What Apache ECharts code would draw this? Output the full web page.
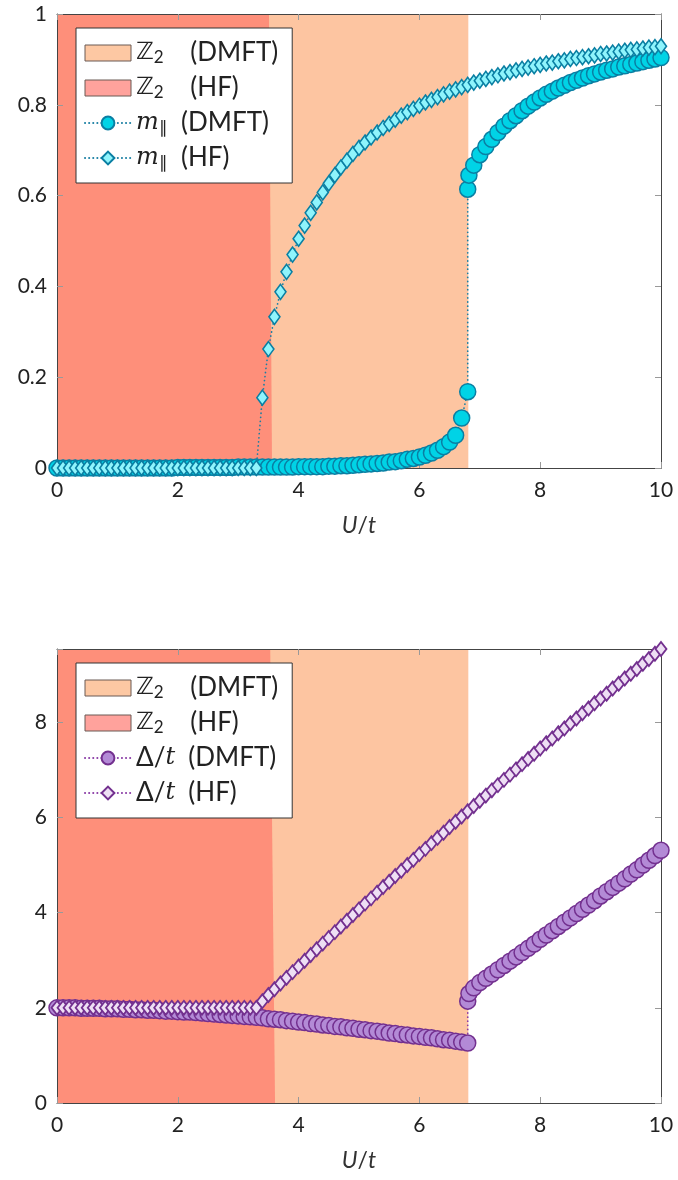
<!DOCTYPE html>
<html>
<head>
<meta charset="utf-8">
<script src="https://cdn.jsdelivr.net/npm/echarts@6/dist/echarts.min.js"></script>
<style>
html,body{margin:0;padding:0;background:#fff;}
#chart{width:678px;height:1180px;}
</style>
</head>
<body>
<div id="chart"></div>
<script>
// ---------- data ----------
const xHF = [0,0.1,0.2,0.3,0.4,0.5,0.6,0.7,0.8,0.9,1,1.1,1.2,1.3,1.4,1.5,1.6,1.7,1.8,1.9,2,2.1,2.2,2.3,2.4,2.5,2.6,2.7,2.8,2.9,3,3.1,3.2,3.3,3.4,3.5,3.6,3.7,3.8,3.9,4,4.1,4.2,4.3,4.4,4.5,4.6,4.7,4.8,4.9,5,5.1,5.2,5.3,5.4,5.5,5.6,5.7,5.8,5.9,6,6.1,6.2,6.3,6.4,6.5,6.6,6.7,6.8,6.9,7,7.1,7.2,7.3,7.4,7.5,7.6,7.7,7.8,7.9,8,8.1,8.2,8.3,8.4,8.5,8.6,8.7,8.8,8.9,9,9.1,9.2,9.3,9.4,9.5,9.6,9.7,9.8,9.9,10];
const mHF = [0,0,0,0,0,0,0,0,0,0,0,0,0,0,0,0,0,0,0,0,0,0,0,0,0,0,0,0,0,0,0,0,0,0,
  0.155,0.262,0.333,0.388,0.432,0.470,0.505,0.534,0.562,0.585,0.607,0.627,0.645,0.662,0.677,0.692,
  0.705,0.717,0.728,0.739,0.749,0.758,0.767,0.776,0.784,0.791,0.798,0.805,0.811,0.817,0.823,0.829,
  0.834,0.839,0.844,0.849,0.853,0.857,0.861,0.865,0.869,0.872,0.876,0.879,0.882,0.885,0.888,0.891,
  0.893,0.896,0.898,0.901,0.903,0.905,0.907,0.909,0.912,0.913,0.915,0.917,0.919,0.921,0.922,0.924,
  0.926,0.927,0.929];
const dHF = [2,2,2,2,2,2,2,2,2,2,2,2,2,2,2,2,2,2,2,2,2,2,2,2,2,2,2,2,2,2,2,2,2,2,
  2.14,2.27,2.39,2.51,2.63,2.75,2.87,2.99,3.11,3.23,3.35,3.47,3.59,3.71,3.83,3.95,
  4.07,4.19,4.30,4.42,4.54,4.65,4.77,4.88,5.00,5.11,5.23,5.34,5.46,5.57,5.68,5.80,
  5.91,6.02,6.13,6.24,6.35,6.46,6.57,6.68,6.79,6.90,7.01,7.12,7.23,7.34,7.45,7.56,
  7.66,7.77,7.87,7.98,8.08,8.19,8.29,8.40,8.50,8.60,8.71,8.81,8.92,9.02,9.12,9.23,
  9.33,9.44,9.54];

const xDMFT = [0,0.1,0.2,0.3,0.4,0.5,0.6,0.7,0.8,0.9,1,1.1,1.2,1.3,1.4,1.5,1.6,1.7,1.8,1.9,2,2.1,2.2,2.3,2.4,2.5,2.6,2.7,2.8,2.9,3,3.1,3.2,3.3,3.4,3.5,3.6,3.7,3.8,3.9,4,4.1,4.2,4.3,4.4,4.5,4.6,4.7,4.8,4.9,5,5.1,5.2,5.3,5.4,5.5,5.6,5.7,5.8,5.9,6,6.1,6.2,6.3,6.4,6.5,6.6,6.7,6.8,
  6.8,6.82,6.9,7,7.1,7.2,7.3,7.4,7.5,7.6,7.7,7.8,7.9,8,8.1,8.2,8.3,8.4,8.5,8.6,8.7,8.8,8.9,9,9.1,9.2,9.3,9.4,9.5,9.6,9.7,9.8,9.9,10];
const mDMFT = [0,0,0,0,0,0,0,0,0,0,0,0,0,0,0,0,0,0,0,0,
  0.001,0.001,0.001,0.001,0.001,0.001,0.001,0.001,0.001,0.001,
  0.002,0.002,0.002,0.002,0.002,0.002,0.002,0.002,0.002,0.002,
  0.003,0.003,0.003,0.003,0.003,
  0.004,0.004,0.005,0.005,0.006,0.007,0.008,0.009,0.010,0.011,0.013,0.014,0.016,0.019,0.021,0.024,
  0.028,0.033,0.039,0.047,0.057,0.072,0.110,0.168,
  0.614,0.645,0.667,0.690,0.708,0.724,0.739,0.753,0.765,0.776,0.787,0.797,0.806,0.815,0.823,0.830,
  0.837,0.843,0.849,0.854,0.859,0.864,0.868,0.872,0.876,0.879,0.883,0.886,0.889,0.892,0.895,0.898,
  0.901,0.904];
const dDMFT = [2.00,2.00,2.00,2.00,1.99,1.99,1.99,1.99,1.98,1.98,
  1.98,1.97,1.97,1.96,1.96,1.95,1.95,1.94,1.93,1.93,
  1.92,1.91,1.91,1.90,1.89,1.88,1.87,1.86,1.85,1.84,
  1.83,1.82,1.81,1.80,1.79,1.77,1.76,1.75,1.73,1.72,
  1.70,1.69,1.67,1.66,1.64,1.63,1.61,1.60,1.58,1.57,
  1.55,1.54,1.52,1.51,1.49,1.47,1.46,1.44,1.43,1.41,
  1.40,1.38,1.37,1.35,1.33,1.32,1.30,1.28,1.26,
  2.14,2.30,2.42,2.53,2.62,2.71,2.80,2.89,2.98,3.07,3.16,3.25,3.34,3.44,3.53,3.62,
  3.71,3.80,3.89,3.98,4.07,4.16,4.25,4.35,4.44,4.53,4.62,4.71,4.81,4.90,5.00,5.10,
  5.20,5.31];

// phase regions (polygon corners in data units)
const regionDMFT_top = [[0,0],[6.81,0],[6.81,1],[0,1]];
const regionHF_top = [[0,0],[3.56,0],[3.51,1],[0,1]];
const regionDMFT_bot = [[0,0],[6.81,0],[6.81,9.54],[0,9.54]];
const regionHF_bot = [[0,0],[3.61,0],[3.53,9.54],[0,9.54]];

const xTicks = [0,2,4,6,8,10];
const yTicksTop = [0,0.2,0.4,0.6,0.8,1];
const yTicksBot = [0,2,4,6,8];

// ---------- helpers ----------
const zip = (xs, ys) => xs.map((x, i) => [x, ys[i]]);
const FONT = 'Lato';
const TXT = '#222';

function regionSeries(name, pts, color, xi, yi) {
  return {
    type: 'custom', name: name, xAxisIndex: xi, yAxisIndex: yi, z: 0,
    itemStyle: {color: color}, silent: true,
    data: [[0, 0]],
    renderItem: function (params, api) {
      return {type: 'polygon', shape: {points: pts.map(p => api.coord(p))},
              style: {fill: color}};
    }
  };
}
function lineSeries(name, data, sym, size, fill, stroke, bw, lineColor, xi, yi, z) {
  return {
    type: 'line', name: name, xAxisIndex: xi, yAxisIndex: yi, z: z,
    data: data, symbol: sym, symbolSize: size, showSymbol: true,
    itemStyle: {color: fill, borderColor: stroke, borderWidth: bw},
    lineStyle: {color: lineColor, width: 1.7, type: [0.1, 4], cap: 'round'},
    emphasis: {disabled: true}, animation: false
  };
}
function xAx(grid, pos) {
  const bottom = pos === 'bottom';
  return {
    type: 'value', gridIndex: grid, position: pos, min: 0, max: 10, interval: 2, z: 1,
    name: bottom ? '{i|U}/{i|t}' : '', nameLocation: 'middle', nameGap: 46,
    nameTextStyle: {fontFamily: FONT, fontSize: 23, color: '#333',
      rich: {i: {fontStyle: 'italic', fontFamily: FONT, fontSize: 23, color: '#333'}}},
    axisLine: {show: true, onZero: false, lineStyle: {color: '#444', width: 1}},
    axisTick: {show: true, inside: true, length: 6, lineStyle: {color: '#999'}},
    axisLabel: {show: bottom, fontFamily: FONT, fontSize: 21, color: TXT, margin: 12,
      formatter: v => xTicks.includes(v) ? String(v) : ''},
    splitLine: {show: false}
  };
}
function yAx(grid, pos, max, interval, ticks) {
  const left = pos === 'left';
  return {
    type: 'value', gridIndex: grid, position: pos, min: 0, max: max, interval: interval, z: 1,
    axisLine: {show: true, onZero: false, lineStyle: {color: '#444', width: 1}},
    axisTick: {show: true, inside: true, length: 6, lineStyle: {color: '#999'}},
    axisLabel: {show: left, fontFamily: FONT, fontSize: 21, color: TXT, margin: 10,
      formatter: v => ticks.some(t => Math.abs(t - v) < 1e-9) ? String(+v.toFixed(1)) : ''},
    splitLine: {show: false}
  };
}

const labels = {
  'Zd1': '{z|ℤ}{s|2}{b|    (DMFT)}',
  'Zh1': '{z|ℤ}{s|2}{b|    (HF)}',
  'md':  '{i|m}{s|∥}{b|  (DMFT)}',
  'mh':  '{i|m}{s|∥}{b|  (HF)}',
  'Zd2': '{z|ℤ}{s|2}{b|    (DMFT)}',
  'Zh2': '{z|ℤ}{s|2}{b|    (HF)}',
  'dd':  '{b|Δ/}{i|t}{b|  (DMFT)}',
  'dh':  '{b|Δ/}{i|t}{b|  (HF)}'
};
const rich = {
  b: {fontFamily: FONT, fontSize: 26, lineHeight: 26, color: TXT},
  z: {fontFamily: 'DejaVu Sans', fontSize: 24, lineHeight: 26, color: TXT},
  i: {fontFamily: 'DejaVu Serif', fontStyle: 'italic', fontSize: 24, lineHeight: 26, color: TXT},
  s: {fontFamily: FONT, fontSize: 17, lineHeight: 15, verticalAlign: 'bottom', color: TXT}
};
function legend(top, items) {
  return {
    orient: 'vertical', left: 76, top: top, selectedMode: false,
    backgroundColor: '#fff', borderColor: '#333', borderWidth: 1,
    padding: [12, 14, 12, 8], itemGap: 9, itemWidth: 46, itemHeight: 16,
    textStyle: {rich: rich, fontFamily: FONT, fontSize: 26, color: TXT},
    formatter: n => labels[n],
    data: items
  };
}
const patch = (name, color) => ({name: name, icon: 'rect',
  itemStyle: {color: color, borderColor: '#6b5a55', borderWidth: 1}});

const option = {
  animation: false,
  backgroundColor: '#fff',
  grid: [
    {left: 57, top: 14, width: 604, height: 454},
    {left: 57, top: 649, width: 604, height: 454}
  ],
  xAxis: [xAx(0, 'bottom'), xAx(0, 'top'), xAx(1, 'bottom'), xAx(1, 'top')],
  yAxis: [yAx(0, 'left', 1, 0.2, yTicksTop), yAx(0, 'right', 1, 0.2, yTicksTop),
          yAx(1, 'left', 9.54, 2, yTicksBot), yAx(1, 'right', 9.54, 2, yTicksBot)],
  legend: [
    legend(28, [patch('Zd1', '#FDC8A3'), patch('Zh1', '#FFA29C'), 'md', 'mh']),
    legend(663, [patch('Zd2', '#FDC8A3'), patch('Zh2', '#FFA29C'), 'dd', 'dh'])
  ],
  series: [
    regionSeries('Zd1', regionDMFT_top, '#FDC5A1', 0, 0),
    regionSeries('Zh1', regionHF_top, '#FE8F7A', 0, 0),
    lineSeries('md', zip(xDMFT, mDMFT), 'circle', 16, '#00D3E6', '#0A7FA3', 1.5, '#1A7FA3', 0, 0, 3),
    lineSeries('mh', zip(xHF, mHF), 'diamond', [11, 15], '#8FF4FC', '#0A7FA3', 1.6, '#1A7FA3', 0, 0, 4),
    regionSeries('Zd2', regionDMFT_bot, '#FDC5A1', 2, 2),
    regionSeries('Zh2', regionHF_bot, '#FE8F7A', 2, 2),
    lineSeries('dd', zip(xDMFT, dDMFT), 'circle', 16, '#B38AD6', '#73308F', 1.5, '#8A3CA6', 2, 2, 3),
    lineSeries('dh', zip(xHF, dHF), 'diamond', [11, 14], '#EEDFF4', '#73308F', 1.8, '#8A3CA6', 2, 2, 4)
  ]
};
const chart = echarts.init(document.getElementById('chart'), null, {renderer: 'canvas'});
chart.setOption(option);
</script>
</body>
</html>
